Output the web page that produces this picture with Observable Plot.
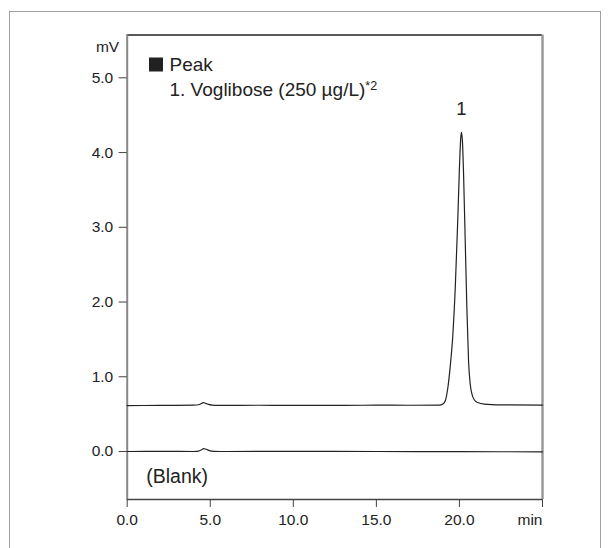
<!DOCTYPE html>
<html><head><meta charset="utf-8">
<script src="https://cdn.jsdelivr.net/npm/d3@7"></script>
<script src="https://cdn.jsdelivr.net/npm/@observablehq/plot@0.6"></script>
<style>
html,body{margin:0;padding:0;background:#fff;}
#wrap{position:relative;width:611px;height:548px;overflow:hidden;}
#box{position:absolute;left:9px;top:11px;width:592px;height:620px;border:1.5px solid #a0a0a0;box-sizing:border-box;}
#chart{position:absolute;left:0;top:0;}
</style></head><body>
<div id="wrap"><div id="box"></div><div id="chart"></div></div>
<script>
// ---- data ----
const xDomain = [0, 25];
const yDomain = [-0.642, 5.573];
const xTicks = [0, 5, 10, 15, 20, 25];
const yTicks = [0, 1, 2, 3, 4, 5];
const xUnit = "min";
const yUnit = "mV";
const legendTitle = "Peak";
const legendItem = "1. Voglibose (250 µg/L)";
const legendNote = "*2";
const blankLabel = "(Blank)";
const peakLabel = "1";
const peakTime = 20.12;
const peakHeight = 4.27;

const sampleTime  = [0, 2, 4, 4.3, 4.45, 4.58, 4.72, 4.9, 5.1, 5.5, 8, 10, 13, 15, 17, 18.8, 19.0, 19.15, 19.3, 19.45, 19.6, 19.75, 19.9, 20.0, 20.08, 20.12, 20.18, 20.25, 20.35, 20.45, 20.55, 20.65, 20.75, 20.9, 21.1, 21.5, 22.5, 25];
const sampleValue = [0.615, 0.617, 0.62, 0.626, 0.64, 0.655, 0.645, 0.63, 0.622, 0.618, 0.619, 0.617, 0.618, 0.62, 0.619, 0.62, 0.635, 0.68, 0.85, 1.15, 1.55, 2.2, 3.1, 3.8, 4.2, 4.27, 4.15, 3.7, 2.8, 1.9, 1.2, 0.9, 0.77, 0.69, 0.655, 0.635, 0.625, 0.62];

const blankTime  = [0, 2, 4, 4.3, 4.45, 4.6, 4.75, 4.95, 5.2, 6, 10, 15, 20, 25];
const blankValue = [0.0, 0.002, 0.0, 0.005, 0.02, 0.04, 0.03, 0.012, 0.003, 0.0, 0.002, 0.0, -0.002, -0.004];

const sample = sampleTime.map((t, i) => ({t, v: sampleValue[i]}));
const blank = blankTime.map((t, i) => ({t, v: blankValue[i]}));

const font = "'Liberation Sans', Arial, Helvetica, sans-serif";
const fmt = d => d.toFixed(1);

const plot = Plot.plot({
  width: 611,
  height: 548,
  marginLeft: 126.7,
  marginRight: 69,
  marginTop: 34.5,
  marginBottom: 49,
  style: {fontFamily: font, fontSize: "15px", color: "#222", background: "transparent", overflow: "visible"},
  x: {domain: xDomain},
  y: {domain: yDomain},
  marks: [
    // frame sides
    Plot.ruleY([yDomain[1]], {stroke: "#222", strokeWidth: 1.6}),
    Plot.ruleY([yDomain[0]], {stroke: "#444", strokeWidth: 1.6}),
    Plot.ruleX([xDomain[0]], {stroke: "#888", strokeWidth: 2}),
    Plot.ruleX([xDomain[1]], {stroke: "#999", strokeWidth: 2.5}),
    // axes
    Plot.axisX({ticks: xTicks, tickSize: 8, tickPadding: 6, tickFormat: d => d === xDomain[1] ? "" : fmt(d), fontSize: 15.5, stroke: "#444", label: null}),
    Plot.axisY({ticks: yTicks, tickSize: 8, tickPadding: 6, tickFormat: fmt, fontSize: 15.5, stroke: "#444", label: null}),
    Plot.text([xUnit], {x: xDomain[1], frameAnchor: "bottom", dy: 14, lineAnchor: "top", textAnchor: "end", fontSize: 15.5, fill: "#222"}),
    Plot.text([yUnit], {frameAnchor: "top-left", dx: -8, dy: 12, lineAnchor: "middle", textAnchor: "end", fontSize: 15.5, fill: "#222"}),
    // traces
    Plot.line(blank, {x: "t", y: "v", stroke: "#222", strokeWidth: 1.2, curve: "monotone-x"}),
    Plot.line(sample, {x: "t", y: "v", stroke: "#222", strokeWidth: 1.2, curve: "monotone-x"}),
    // labels
    Plot.text([peakLabel], {x: () => peakTime, y: () => peakHeight, dy: -23, lineAnchor: "middle", fontSize: 18.5, fill: "#222"}),
    Plot.text([blankLabel], {frameAnchor: "bottom-left", dx: 19, dy: -22.5, lineAnchor: "middle", textAnchor: "start", fontSize: 19.5, fill: "#222"}),
    Plot.dot([legendTitle], {frameAnchor: "top-left", dx: 28.8, dy: 29.5, symbol: "square", r: 7.9, fill: "#222", stroke: "none"}),
    Plot.text([legendTitle], {frameAnchor: "top-left", dx: 42.3, dy: 29.5, lineAnchor: "middle", textAnchor: "start", fontSize: 19, fill: "#222"}),
    Plot.text([legendItem], {frameAnchor: "top-left", dx: 42.3, dy: 55, lineAnchor: "middle", textAnchor: "start", fontSize: 19, fill: "#222"})
  ]
});

// superscript note after legend item
d3.select(plot).selectAll("text").filter(function() { return this.textContent === legendItem; })
  .append("tspan").attr("dy", "-0.45em").attr("font-size", 12.5).text(legendNote);

document.getElementById("chart").appendChild(plot);
</script>
</body></html>
